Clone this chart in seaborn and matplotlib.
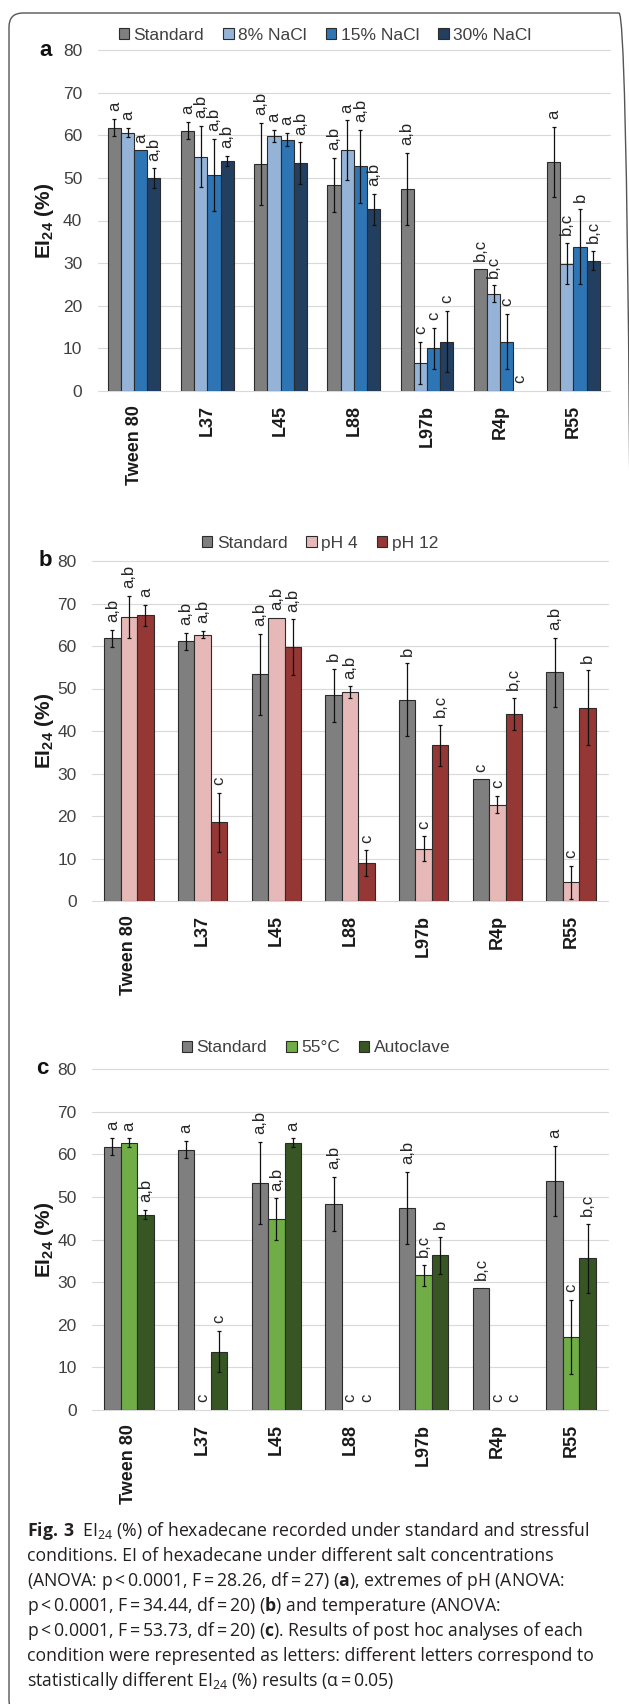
import numpy as np
import pandas as pd
import matplotlib
matplotlib.use("Agg")
import matplotlib.pyplot as plt
import seaborn as sns
from matplotlib.patches import Patch, FancyBboxPatch

# ---------------------------------------------------------------- data
strains = ["Tween 80", "L37", "L45", "L88", "L97b", "R4p", "R55"]

std_mean = [61.8, 61.1, 53.3, 48.4, 47.4, 28.6, 53.8]
std_err = [2.0, 2.0, 9.6, 6.3, 8.5, 0.0, 8.2]

# (a) salt
salt_conditions = ["Standard", "8% NaCl", "15% NaCl", "30% NaCl"]
nacl8_mean = [60.6, 55.0, 59.8, 56.5, 6.6, 22.8, 29.9]
nacl8_err = [1.1, 7.2, 1.5, 7.0, 4.9, 2.0, 4.8]
nacl15_mean = [56.5, 50.7, 59.0, 52.7, 10.0, 11.6, 33.8]
nacl15_err = [0.0, 8.4, 1.5, 8.6, 4.8, 6.5, 8.8]
nacl30_mean = [49.9, 53.9, 53.4, 42.6, 11.6, 0.0, 30.6]
nacl30_err = [2.3, 1.2, 4.9, 3.7, 7.2, 0.0, 2.3]
salt_letters = [
    ["a", "a", "a,b", "a,b", "a,b", "b,c", "a"],
    ["a", "a,b", "a", "a", "c", "b,c", "b,c"],
    ["a", "a,b", "a", "a,b", "c", "c", "b"],
    ["a,b", "a,b", "a,b", "a,b", "c", "c", "b,c"],
]

# (b) pH
ph_conditions = ["Standard", "pH 4", "pH 12"]
ph4_mean = [66.8, 62.7, 66.7, 49.1, 12.3, 22.7, 4.4]
ph4_err = [5.0, 0.9, 0.0, 1.4, 2.9, 2.0, 3.9]
ph12_mean = [67.2, 18.5, 59.7, 8.9, 36.6, 44.0, 45.5]
ph12_err = [2.5, 6.9, 6.6, 3.0, 4.9, 3.8, 8.8]
ph_letters = [
    ["a,b", "a,b", "a,b", "b", "b", "c", "a,b"],
    ["a,b", "a,b", "a,b", "a,b", "c", "c", "c"],
    ["a", "c", "a,b", "c", "b,c", "b,c", "b"],
]

# (c) temperature
temp_conditions = ["Standard", "55°C", "Autoclave"]
t55_mean = [62.7, 0.0, 44.8, 0.0, 31.6, 0.0, 17.2]
t55_err = [1.0, 0.0, 4.9, 0.0, 2.4, 0.0, 8.7]
auto_mean = [45.8, 13.7, 62.7, 0.0, 36.3, 0.0, 35.6]
auto_err = [1.1, 4.9, 1.0, 0.0, 4.3, 0.0, 8.1]
temp_letters = [
    ["a", "a", "a,b", "a,b", "a,b", "b,c", "a"],
    ["a", "c", "a,b", "c", "b,c", "c", "c"],
    ["a,b", "c", "a", "c", "b", "c", "b,c"],
]

y_ticks = [0, 10, 20, 30, 40, 50, 60, 70, 80]

caption_lines = [
    r"$\mathbf{Fig.\,3}$  EI$_{24}$ (%) of hexadecane recorded under standard and stressful",
    "conditions. EI of hexadecane under different salt concentrations",
    r"(ANOVA: p$\,$<$\,$0.0001, F$\,$=$\,$28.26, df$\,$=$\,$27) ($\mathbf{a}$), extremes of pH (ANOVA:",
    r"p$\,$<$\,$0.0001, F$\,$=$\,$34.44, df$\,$=$\,$20) ($\mathbf{b}$) and temperature (ANOVA:",
    r"p$\,$<$\,$0.0001, F$\,$=$\,$53.73, df$\,$=$\,$20) ($\mathbf{c}$). Results of post hoc analyses of each",
    "condition were represented as letters: different letters correspond to",
    r"statistically different EI$_{24}$ (%) results (α$\,$=$\,$0.05)",
]

# ---------------------------------------------------------------- style
sns.set_style("white")
plt.rcParams["font.family"] = ["Liberation Sans", "DejaVu Sans"]
plt.rcParams["mathtext.fontset"] = "custom"
plt.rcParams["mathtext.default"] = "regular"
plt.rcParams["mathtext.bf"] = "Open Sans:bold"
plt.rcParams["mathtext.rm"] = "Open Sans"

W, H, DPI = 629, 1704, 100
EDGE = "#2b2b2b"
TICK_COL = "#404040"

fig = plt.figure(figsize=(W / DPI, H / DPI), dpi=DPI)
fig.patch.set_facecolor("white")


def px_axes(left, right, top, bottom):
    return fig.add_axes([left / W, 1 - bottom / H, (right - left) / W, (bottom - top) / H])


def draw_panel(ax, conds, means, errs, letters, colors, width):
    rows = []
    for cond, vals in zip(conds, means):
        for s, v in zip(strains, vals):
            rows.append((s, cond, v))
    df = pd.DataFrame(rows, columns=["strain", "condition", "value"])
    sns.barplot(
        data=df, x="strain", y="value", hue="condition",
        order=strains, hue_order=conds, palette=colors,
        width=width, saturation=1, edgecolor=EDGE, linewidth=0.8,
        errorbar=None, legend=False, ax=ax, zorder=2,
    )
    bar_groups = list(ax.containers)
    for i, cont in enumerate(bar_groups):
        for j, bar in enumerate(cont):
            xc = bar.get_x() + bar.get_width() / 2
            v = means[i][j]
            e = errs[i][j]
            if v == 0:
                bar.set_visible(False)
            if e > 0:
                ax.errorbar(xc, v, yerr=e, fmt="none", ecolor="#111111",
                            elinewidth=0.9, capsize=1.6, capthick=0.9, zorder=3)
            ax.annotate(letters[i][j], (xc, v + e), xytext=(0, 5.5),
                        textcoords="offset points", rotation=90,
                        ha="center", va="bottom", fontsize=12,
                        color="#262626", annotation_clip=False)

    ax.set_ylim(0, 80)
    ax.set_xlim(-0.5, len(strains) - 0.5)
    ax.set_yticks(y_ticks)
    ax.set_xlabel("")
    ax.set_ylabel("")
    for sp in ax.spines.values():
        sp.set_visible(False)
    ax.yaxis.grid(True, color="#d9d9d9", linewidth=0.8)
    ax.xaxis.grid(False)
    for gl in ax.get_ygridlines():
        gl.set_clip_on(False)
    ax.set_axisbelow(True)
    ax.tick_params(axis="y", length=0, labelsize=12.5, labelcolor=TICK_COL, pad=11)
    ax.tick_params(axis="x", length=0, pad=10)
    ax.set_xticks(range(len(strains)))
    ax.set_xticklabels(strains, rotation=90, fontsize=13, fontweight="bold",
                       color="#1a1a1a", ha="center", va="top")


def legend_at(conds, colors, cx, cy):
    handles = [Patch(facecolor=c, edgecolor=EDGE, linewidth=0.8) for c in colors]
    fig.legend(handles, conds, loc="center", bbox_to_anchor=(cx / W, 1 - cy / H),
               ncol=len(conds), frameon=False, fontsize=12.5, handlelength=0.6,
               handleheight=0.6, handletextpad=0.25, columnspacing=1.1,
               borderaxespad=0, labelcolor=TICK_COL)


def ylabel_at(x, y):
    fig.text(x / W, 1 - y / H, r"EI$_{24}$ (%)", rotation=90, ha="center",
             va="center", fontsize=15, fontweight="bold", color="#1a1a1a")


def letter_at(txt, x, y):
    fig.text(x / W, 1 - y / H, txt, ha="center", va="center", fontsize=16,
             fontweight="bold", color="#111111")


# ---------------------------------------------------------------- (a)
salt_colors = ["#7f7f7f", "#95b3d7", "#2e75b6", "#223f60"]
ax_a = px_axes(97.5, 610, 50, 391)
draw_panel(ax_a, salt_conditions,
           [std_mean, nacl8_mean, nacl15_mean, nacl30_mean],
           [std_err, nacl8_err, nacl15_err, nacl30_err],
           salt_letters, salt_colors, 0.72)
legend_at(salt_conditions, salt_colors, 325, 35)
ylabel_at(44, 221)
letter_at("a", 46, 51)

# ---------------------------------------------------------------- (b)
ph_colors = ["#7f7f7f", "#e6b9b8", "#953735"]
ax_b = px_axes(92, 608, 561, 901)
draw_panel(ax_b, ph_conditions,
           [std_mean, ph4_mean, ph12_mean],
           [std_err, ph4_err, ph12_err],
           ph_letters, ph_colors, 0.67)
legend_at(ph_conditions, ph_colors, 320, 543)
ylabel_at(44, 731)
letter_at("b", 45, 560)

# ---------------------------------------------------------------- (c)
temp_colors = ["#7f7f7f", "#70ad47", "#375623"]
ax_c = px_axes(92, 608, 1069, 1410)
draw_panel(ax_c, temp_conditions,
           [std_mean, t55_mean, auto_mean],
           [std_err, t55_err, auto_err],
           temp_letters, temp_colors, 0.67)
legend_at(temp_conditions, temp_colors, 316, 1048)
ylabel_at(44, 1240)
letter_at("c", 42, 1069)

# ---------------------------------------------------------------- caption
for k, line in enumerate(caption_lines):
    fig.text(27 / W, 1 - (1536 + 25 * k) / H, line, ha="left", va="baseline",
             fontsize=12.7, family="Open Sans", color="#231f20")

# ---------------------------------------------------------------- frame
frame = FancyBboxPatch((9 / DPI, -0.1), (633 - 9) / DPI, (H - 13) / DPI + 0.1,
                       boxstyle="round,pad=0,rounding_size=0.14",
                       transform=fig.dpi_scale_trans, facecolor="none",
                       edgecolor="#555555", linewidth=1.0)
fig.add_artist(frame)

fig.savefig("out.png", dpi=DPI, facecolor="white")
